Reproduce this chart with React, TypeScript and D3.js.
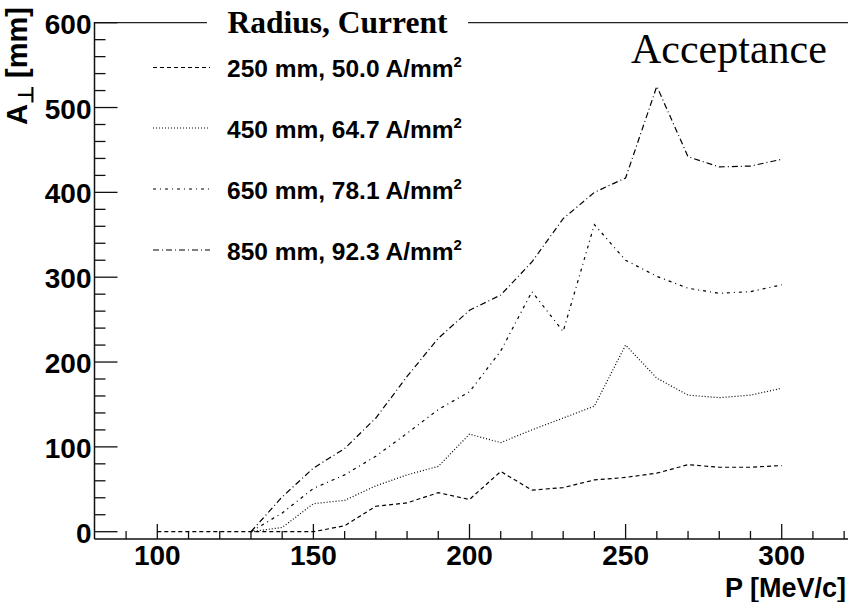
import React from "react";
import * as d3 from "d3";

const momentum = [100, 110, 120, 130, 140, 150, 160, 170, 180, 190, 200, 210, 220, 230, 240, 250, 260, 270, 280, 290, 300];
const acc250: (number | null)[] = [0, 0, 0, 0, 0, 0, 7, 30, 34, 46, 38, 71, 49, 52, 61, 64, 69, 79, 76, 76, 78];
const acc450: (number | null)[] = [null, null, null, 0, 5, 33, 37, 54, 67, 77, 115, 105, 120, 134, 148, 220, 181, 161, 158, 161, 169];
const acc650: (number | null)[] = [null, null, null, 0, 22, 51, 67, 89, 116, 144, 165, 213, 283, 236, 362, 320, 301, 287, 281, 283, 291];
const acc850: (number | null)[] = [null, null, null, 0, 41, 75, 98, 134, 183, 228, 261, 279, 318, 369, 400, 417, 525, 442, 430, 431, 439];

const seriesLabels = ["250 mm, 50.0 A/mm", "450 mm, 64.7 A/mm", "650 mm, 78.1 A/mm", "850 mm, 92.3 A/mm"];
const seriesDash = ["4 3", "1 2", "3 4 1 4", "6 3 1 3"];
const xTicks = [100, 150, 200, 250, 300];
const yTicks = [0, 100, 200, 300, 400, 500, 600];

const W = 848;
const H = 602;
const AX_X = 94.5;
const AX_Y = 539;

export default function App() {
  const x = d3.scaleLinear().domain([100, 300]).range([157.3, 781.7]);
  const y = d3.scaleLinear().domain([0, 600]).range([531.7, 22.7]);
  const xMinor = d3.range(90, 330, 10).filter((v) => x(v) >= AX_X && x(v) <= W);
  const yMinor = d3.range(0, 601, 20);
  const allSeries = [acc250, acc450, acc650, acc850];
  const line = d3
    .line<[number, number | null]>()
    .defined((d) => d[1] !== null)
    .x((d) => x(d[0]))
    .y((d) => y(d[1] as number));

  const sans = "'Liberation Sans', Arial, Helvetica, sans-serif";
  const serif = "'Liberation Serif', 'Times New Roman', serif";
  const legendY = [67.5, 128, 189, 250];

  return (
    <svg
      width={W}
      height={H}
      style={{ position: "fixed", left: 0, top: 0, background: "#fff" }}
      xmlns="http://www.w3.org/2000/svg"
    >
      <rect x={0} y={0} width={W} height={H} fill="#fff" />
      <line x1={AX_X} x2={207} y1={22.7} y2={22.7} stroke="#222" strokeWidth={1.3} />
      <line x1={468} x2={W} y1={22.7} y2={22.7} stroke="#222" strokeWidth={1.3} />

      <line x1={AX_X} x2={AX_X} y1={22} y2={AX_Y} stroke="#111" strokeWidth={1.5} />
      <line x1={AX_X} x2={W} y1={AX_Y} y2={AX_Y} stroke="#111" strokeWidth={1.5} />

      {yMinor.map((v) => {
        const major = v % 100 === 0;
        return (
          <line
            key={"ym" + v}
            x1={AX_X}
            x2={AX_X + (major ? 23 : 11)}
            y1={y(v)}
            y2={y(v)}
            stroke="#111"
            strokeWidth={1.3}
          />
        );
      })}
      {xMinor.map((v) => {
        const major = v % 50 === 0;
        return (
          <line
            key={"xm" + v}
            x1={x(v)}
            x2={x(v)}
            y1={AX_Y}
            y2={AX_Y - (major ? 15 : 8)}
            stroke="#111"
            strokeWidth={1.3}
          />
        );
      })}

      {yTicks.map((v) => (
        <text
          key={"yl" + v}
          x={91.5}
          y={y(v) + 11}
          textAnchor="end"
          fontFamily={sans}
          fontWeight="bold"
          fontSize={28}
          fill="#000"
        >
          {v}
        </text>
      ))}
      {xTicks.map((v) => (
        <text
          key={"xl" + v}
          x={x(v)}
          y={565}
          textAnchor="middle"
          fontFamily={sans}
          fontWeight="bold"
          fontSize={28}
          fill="#000"
        >
          {v}
        </text>
      ))}

      <text x={846} y={597} textAnchor="end" fontFamily={sans} fontWeight="bold" fontSize={27} fill="#000">
        P [MeV/c]
      </text>
      <text
        transform="translate(27,7) rotate(-90)"
        textAnchor="end"
        fontFamily={sans}
        fontWeight="bold"
        fontSize={29}
        fill="#000"
      >
        A<tspan fontSize={21} dy={6}>⊥</tspan>
        <tspan dy={-6}> [mm]</tspan>
      </text>

      {allSeries.map((s, i) => (
        <path
          key={"s" + i}
          d={line(momentum.map((m, j) => [m, s[j]] as [number, number | null])) || ""}
          fill="none"
          stroke="#000"
          strokeWidth={1.2}
          strokeDasharray={seriesDash[i]}
        />
      ))}

      <text x={337.5} y={33} textAnchor="middle" fontFamily={serif} fontWeight="bold" fontSize={31.5} fill="#000">
        Radius, Current
      </text>
      {seriesLabels.map((lab, i) => (
        <g key={"lg" + i}>
          <line
            x1={153}
            x2={210}
            y1={legendY[i]}
            y2={legendY[i]}
            stroke="#000"
            strokeWidth={1.2}
            strokeDasharray={seriesDash[i]}
          />
          <text x={227} y={legendY[i] + 9.5} fontFamily={sans} fontWeight="bold" fontSize={24.5} fill="#000">
            {lab}
            <tspan fontSize={15} dy={-10}>2</tspan>
          </text>
        </g>
      ))}

      <text x={631} y={63} fontFamily={serif} fontSize={42} fill="#000">
        Acceptance
      </text>
    </svg>
  );
}
